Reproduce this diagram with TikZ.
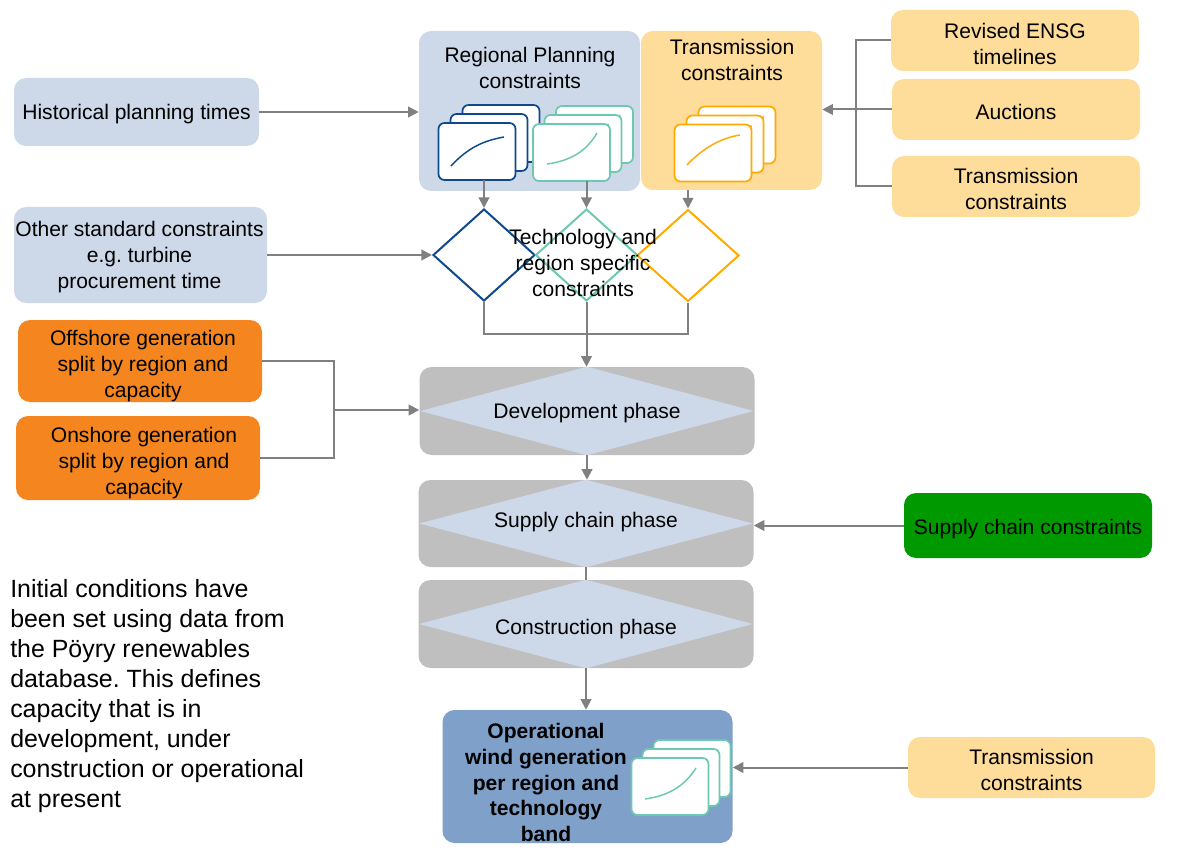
\documentclass[tikz,border=0pt]{standalone}
\usepackage{fontspec}
\setmainfont{Liberation Sans}
\usetikzlibrary{shapes.geometric,arrows.meta}
\frenchspacing
\definecolor{lblue}{RGB}{205,216,233}
\definecolor{lorange}{RGB}{254,220,154}
\definecolor{dorange}{RGB}{245,134,31}
\definecolor{dgreen}{RGB}{0,153,0}
\definecolor{pgrey}{RGB}{191,191,191}
\definecolor{opblue}{RGB}{127,160,200}
\definecolor{cblue}{RGB}{16,72,142}
\definecolor{cteal}{RGB}{108,200,176}
\definecolor{corange}{RGB}{255,170,0}
\definecolor{lgrey}{RGB}{128,128,128}
% #1,#2 front card centre, #3 colour, #4 x offset per card, #5 curve
\newcommand\cardstk[5]{%
  \foreach \o in {2,1,0}{%
    \begin{scope}[shift={(#1+#4*\o,#2-9*\o)}]
      \draw[draw=#3, fill=white, line width=1.3pt, rounded corners=4.5pt] (-38.5,-28.5) rectangle (38.5,28.5);
      \draw[#3, line width=1.1pt] #5;
    \end{scope}}}
\tikzset{
  box/.style={rounded corners=9pt, inner sep=0pt},
  line/.style={draw=lgrey, line width=1.5pt},
  arr/.style={line, -{Triangle[length=8pt,width=8pt]}},
  dia/.style={diamond, draw, fill=white, line width=1.5pt, minimum width=76.5pt, minimum height=69pt, inner sep=0pt},
  lbl/.style={align=center, inner sep=0pt, font=\fontsize{15.8}{19.5}\selectfont},
}
\begin{document}
\begin{tikzpicture}[x=0.75pt,y=-0.75pt]
\useasboundingbox (0,0) rectangle (1181,852);

% left inputs
\node[box, fill=lblue, minimum width=183.75pt, minimum height=51pt] (hist) at (136.5,112) {};
\node[lbl] (histt) at (136.5,114) {Historical planning times};
\node[box, fill=lblue, minimum width=189.75pt, minimum height=72pt] (other) at (140.5,255) {};
\node[lbl] (othert) at (139.5,257) {Other standard constraints\\e.g. turbine\\procurement time};
\node[box, fill=dorange, minimum width=183pt, minimum height=61.5pt] (off) at (140,361) {};
\node[lbl] (offt) at (143,366) {Offshore generation\\split by region and\\capacity};
\node[box, fill=dorange, minimum width=183pt, minimum height=63pt] (on) at (138,458) {};
\node[lbl] (ont) at (144,463) {Onshore generation\\split by region and\\capacity};

% top centre boxes
\node[box, fill=lblue, minimum width=165.75pt, minimum height=120pt] (reg) at (529.5,111) {};
\node[lbl] (regt) at (530,68) {Regional Planning\\constraints};
\node[box, fill=lorange, minimum width=135.75pt, minimum height=119.25pt] (trans) at (731.5,110.5) {};
\node[lbl] (transt) at (732,60) {Transmission\\constraints};

% card stacks
\cardstk{477}{151.5}{cblue}{12}{(-26,14.5) .. controls (-8,-5) and (8,-11) .. (27,-14.5)}
\cardstk{571.5}{152.5}{cteal}{11.5}{(-24.5,11.5) .. controls (-2,8.5) and (14.5,-0.5) .. (25.5,-19.5)}
\cardstk{713}{153}{corange}{12}{(-26,12) .. controls (-10,-5) and (8,-15) .. (27,-18)}
\coordinate (bcard) at (477,180);
\coordinate (tcard) at (571.5,181);

% right top inputs
\node[box, fill=lorange, minimum width=186pt, minimum height=45.75pt] (ensg) at (1015,40.5) {};
\node[lbl] (ensgt) at (1015,44) {Revised ENSG\\timelines};
\node[box, fill=lorange, minimum width=186pt, minimum height=45.75pt] (auc) at (1016,109.5) {};
\node[lbl] (auct) at (1016,112) {Auctions};
\node[box, fill=lorange, minimum width=186pt, minimum height=45.75pt] (tr2) at (1016,186.5) {};
\node[lbl] (tr2t) at (1016,189) {Transmission\\constraints};

% decision diamonds
\node[dia, draw=cblue] (d1) at (484,255) {};
\node[dia, draw=cteal] (d2) at (586.5,255) {};
\node[dia, draw=corange] (d3) at (688,255.5) {};
\node[lbl] (dt) at (583,262.5) {Technology and\\region specific\\constraints};

% phases
\node[box, fill=pgrey, minimum width=251.25pt, minimum height=66pt] (dev) at (587,411) {};
\fill[lblue] ([xshift=0.75pt]dev.west) -- (dev.north) -- ([xshift=-0.75pt]dev.east) -- (dev.south) -- cycle;
\node[lbl] (devt) at (587,413) {Development phase};
\node[box, fill=pgrey, minimum width=251.25pt, minimum height=65.25pt] (sup) at (586,523.5) {};
\fill[lblue] ([xshift=0.75pt]sup.west) -- (sup.north) -- ([xshift=-0.75pt]sup.east) -- (sup.south) -- cycle;
\node[lbl] (supt) at (586,522) {Supply chain phase};
\node[box, fill=pgrey, minimum width=251.25pt, minimum height=66pt] (con) at (586,624) {};
\fill[lblue] ([xshift=0.75pt]con.west) -- (con.north) -- ([xshift=-0.75pt]con.east) -- (con.south) -- cycle;
\node[lbl] (cont) at (586,629) {Construction phase};

% operational
\node[box, fill=opblue, minimum width=217.5pt, minimum height=99.75pt] (op) at (587.5,776.5) {};
\node[lbl, font=\fontsize{15.8}{19.3}\selectfont\bfseries] (opt) at (546,782.5) {Operational\\wind generation\\per region and\\technology\\band};
\cardstk{670}{786.5}{cteal}{11}{(-25,12.5) .. controls (-3,9.5) and (14,0.5) .. (26,-18.5)}

% right lower inputs
\node[box, fill=dgreen, minimum width=186pt, minimum height=48.75pt] (scc) at (1028,525.5) {};
\node[lbl] (scct) at (1028,529) {Supply chain constraints};
\node[box, fill=lorange, minimum width=185.25pt, minimum height=45.75pt] (tb) at (1031.5,767.5) {};
\node[lbl] (tbt) at (1031.5,770) {Transmission\\constraints};

% note
\node[anchor=north west, align=left, inner sep=0pt, font=\fontsize{18.7}{22.5}\selectfont] (note) at (10,579) {Initial conditions have\\been set using data from\\the Pöyry renewables\\database. This defines\\capacity that is in\\development, under\\construction or operational\\at present};

% connectors
\draw[arr] (hist.east) -- (hist.east -| reg.west);
\draw[arr] (other.east) -- (d1.west);
\coordinate (j) at (334,410);
\draw[line] (off.east) -| (j);
\draw[line] (on.east) -| (j);
\draw[arr] (j) -- (j -| dev.west);

\draw[arr] (d1.north |- bcard) -- (d1.north);
\draw[arr] (d2.north |- tcard) -- (d2.north);
\draw[arr] (d3.north |- trans.south) -- (d3.north);

\coordinate (m) at (586.5,334);
\draw[line] (d1.south) |- (m) -| (d3.south);
\draw[line] (d2.south) -- (m);
\draw[arr] (m) -- (m |- dev.north);

\draw[arr] (dev.south) -- (dev.south |- sup.north);
\draw[line] (sup.south) -- (sup.south |- con.north);
\draw[arr] (con.south) -- (con.south |- op.north);

\coordinate (k) at (856,110);
\draw[line] (ensg.west) -| (k);
\draw[line] (tr2.west) -| (k);
\draw[arr] (auc.west) -- (auc.west -| trans.east);

\draw[arr] (scc.west) -- (scc.west -| sup.east);
\draw[arr] (tb.west) -- (tb.west -| op.east);
\end{tikzpicture}
\end{document}
